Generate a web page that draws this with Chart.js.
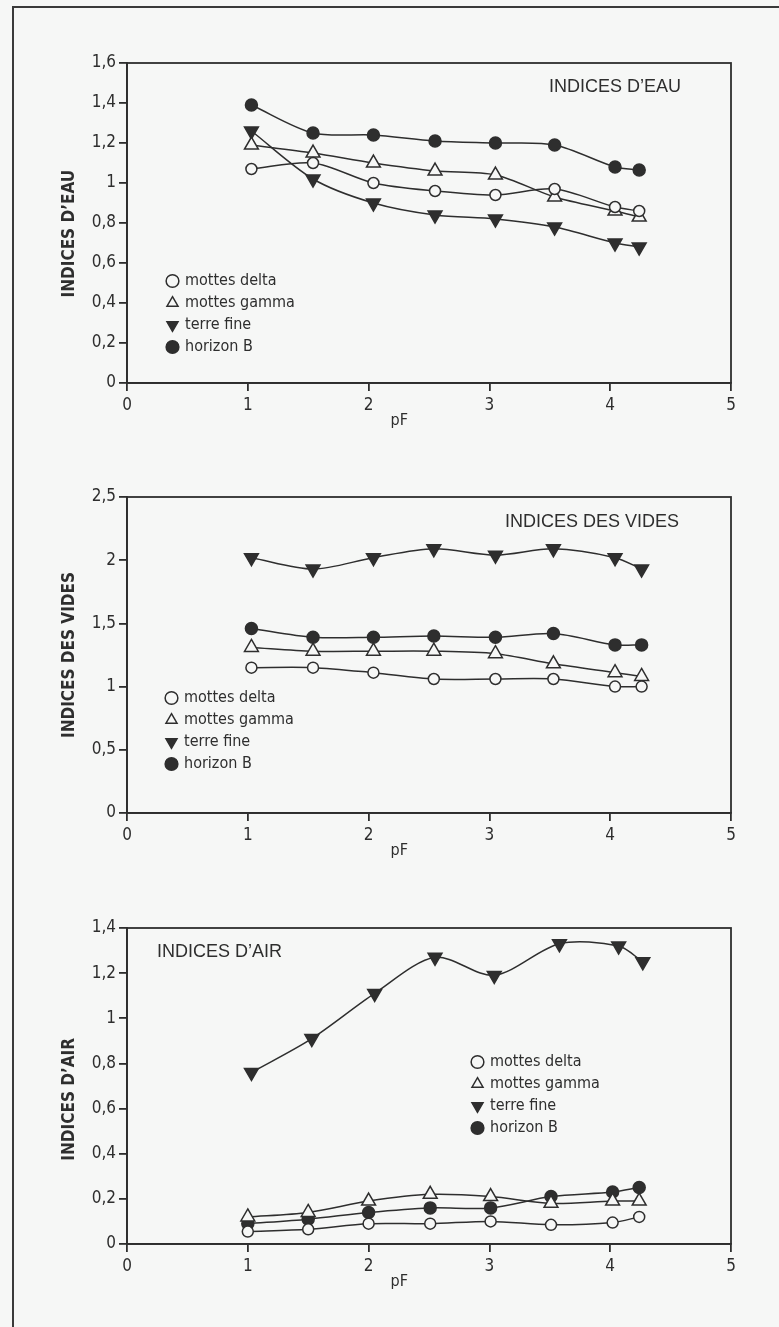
<!DOCTYPE html>
<html>
<head>
<meta charset="utf-8">
<script src="https://cdn.jsdelivr.net/npm/chart.js@4.4.0/dist/chart.umd.min.js"></script>
<style>
  html, body { margin: 0; padding: 0; background: #f6f7f6; }
  #page { position: relative; width: 779px; height: 1327px; overflow: hidden; }
  #frame { position: absolute; left: 12px; top: 6px; right: -10px; bottom: -10px;
           border-top: 2px solid #3a3a3a; border-left: 2px solid #3a3a3a; }
  canvas { position: absolute; left: 0; }
</style>
</head>
<body>
<div id="page">
  <div id="frame"></div>
  <canvas id="eau" width="779" height="440" style="top:0px"></canvas>
  <canvas id="vides" width="779" height="430" style="top:440px"></canvas>
  <canvas id="air" width="779" height="457" style="top:870px"></canvas>
</div>
<script>
const seriesNames = ['mottes delta', 'mottes gamma', 'terre fine', 'horizon B'];

// pF positions
const pfEau = [1.03, 1.54, 2.04, 2.55, 3.05, 3.54, 4.04, 4.24];
const pfVides = [1.03, 1.54, 2.04, 2.54, 3.05, 3.53, 4.04, 4.26];
const pfAir = [1.0, 1.5, 2.0, 2.51, 3.01, 3.51, 4.02, 4.24];
const pfAirTerre = [1.03, 1.53, 2.05, 2.55, 3.04, 3.58, 4.07, 4.27];

// indices d'eau
const eauDelta = [1.07, 1.10, 1.00, 0.96, 0.94, 0.97, 0.88, 0.86];
const eauGamma = [1.19, 1.15, 1.10, 1.06, 1.04, 0.93, 0.86, 0.83];
const eauTerre = [1.26, 1.02, 0.90, 0.84, 0.82, 0.78, 0.70, 0.68];
const eauHorizon = [1.39, 1.25, 1.24, 1.21, 1.20, 1.19, 1.08, 1.065];

// indices des vides
const videsDelta = [1.15, 1.15, 1.11, 1.06, 1.06, 1.06, 1.00, 1.00];
const videsGamma = [1.31, 1.28, 1.28, 1.28, 1.26, 1.18, 1.11, 1.08];
const videsTerre = [2.02, 1.93, 2.02, 2.09, 2.04, 2.09, 2.02, 1.93];
const videsHorizon = [1.46, 1.39, 1.39, 1.40, 1.39, 1.42, 1.33, 1.33];

// indices d'air
const airDelta = [0.055, 0.065, 0.09, 0.09, 0.10, 0.085, 0.095, 0.12];
const airGamma = [0.12, 0.14, 0.19, 0.22, 0.21, 0.18, 0.19, 0.19];
const airTerre = [0.76, 0.91, 1.11, 1.27, 1.19, 1.33, 1.32, 1.25];
const airHorizon = [0.09, 0.11, 0.14, 0.16, 0.16, 0.21, 0.23, 0.25];

const xTicks = [0, 1, 2, 3, 4, 5];

const INK = '#2e2e2e';
const PAPER = '#f6f7f6';
const NARROW = "'Liberation Sans Narrow', 'DejaVu Sans Condensed', sans-serif";
const SANS = "'Liberation Sans', Arial, sans-serif";

const markers = [
  { pointStyle: 'circle', pointRadius: 5.5, pointBackgroundColor: PAPER },
  { pointStyle: 'triangle', pointRadius: 8, pointBackgroundColor: PAPER },
  { pointStyle: 'triangle', pointRotation: 180, pointRadius: 8, pointBackgroundColor: INK },
  { pointStyle: 'circle', pointRadius: 6, pointBackgroundColor: INK },
];

function series(i, xs, ys) {
  return Object.assign({
    label: seriesNames[i],
    data: xs.map((x, k) => ({ x: x, y: ys[k] })),
    borderColor: INK,
    borderWidth: 1.5,
    pointBorderColor: INK,
    pointBorderWidth: 1.5,
    tension: 0.3,
    fill: false
  }, markers[i]);
}

// box round the plot area (top and right sides)
const frame = {
  id: 'frame',
  beforeDatasetsDraw(chart) {
    const { ctx, chartArea: a } = chart;
    ctx.save();
    ctx.strokeStyle = INK;
    ctx.lineWidth = 1.8;
    ctx.strokeRect(a.left, a.top, a.right - a.left, a.bottom - a.top);
    ctx.restore();
  }
};

// panel name written inside the plot
const panelTitle = {
  id: 'panelTitle',
  afterDraw(chart, args, opts) {
    const { ctx, chartArea: a } = chart;
    ctx.save();
    ctx.font = '18px ' + SANS;
    ctx.fillStyle = INK;
    ctx.textBaseline = 'middle';
    ctx.textAlign = opts.align;
    const x = opts.align === 'right' ? a.right - opts.dx : a.left + opts.dx;
    ctx.fillText(opts.text, x, a.top + opts.dy);
    ctx.restore();
  }
};

// move the legend box inside the plot
const legendAt = {
  id: 'legendAt',
  afterLayout(chart, args, opts) {
    const lg = chart.legend;
    const a = chart.chartArea;
    lg.left = a.left + opts.dx;
    lg.top = a.top + opts.dy;
    lg.right = lg.left + lg.width;
    lg.bottom = lg.top + 200;
  }
};

function commaLabel(v) {
  return String(Math.round(v * 10) / 10).replace('.', ',');
}

function makeChart(id, datasets, cfg) {
  const axisGrid = { drawOnChartArea: false, tickLength: 8, color: INK, lineWidth: 1.8 };
  const axisBorder = { color: INK, width: 1.8 };
  const tickFont = { family: NARROW, size: 17 };
  return new Chart(document.getElementById(id), {
    type: 'line',
    data: { datasets: datasets },
    plugins: [frame, panelTitle, legendAt],
    options: {
      responsive: false,
      animation: false,
      devicePixelRatio: 1,
      layout: { autoPadding: false, padding: cfg.padding },
      scales: {
        x: {
          type: 'linear', min: 0, max: 5,
          afterBuildTicks: s => { s.ticks = xTicks.map(v => ({ value: v })); },
          ticks: { color: INK, font: tickFont, padding: 4, maxRotation: 0, callback: commaLabel },
          grid: axisGrid, border: axisBorder,
          title: { display: true, text: 'pF' + ' '.repeat(13), color: INK,
                   font: { family: NARROW, size: 16 }, padding: { top: 0, bottom: 10 } },
          afterFit: s => { s.height = 57; }
        },
        y: {
          type: 'linear', min: 0, max: cfg.yMax,
          ticks: { stepSize: cfg.yStep, color: INK, font: tickFont, padding: 3, callback: commaLabel },
          grid: axisGrid, border: axisBorder,
          title: { display: true, text: cfg.yTitle + ' '.repeat(cfg.yShift), color: INK,
                   font: { family: NARROW, size: 17, weight: 'bold' }, padding: { top: 59, bottom: 0 } },
          afterFit: s => { s.width = 127; }
        }
      },
      plugins: {
        tooltip: { enabled: false },
        legend: {
          position: 'chartArea', align: 'start',
          labels: { usePointStyle: true, boxWidth: 9, boxHeight: 9, padding: 6, color: INK,
                    font: { family: NARROW, size: 16 } }
        },
        legendAt: cfg.legend,
        panelTitle: cfg.title
      }
    }
  });
}

makeChart('eau', [
  series(0, pfEau, eauDelta),
  series(1, pfEau, eauGamma),
  series(2, pfEau, eauTerre),
  series(3, pfEau, eauHorizon)
], {
  padding: { left: 0, top: 63, right: 48, bottom: 0 },
  yMax: 1.6, yStep: 0.2, yTitle: "INDICES D\u2019EAU", yShift: 4,
  legend: { dx: 35, dy: 204 },
  title: { text: "INDICES D\u2019EAU", align: 'right', dx: 50, dy: 24 }
});

makeChart('vides', [
  series(0, pfVides, videsDelta),
  series(1, pfVides, videsGamma),
  series(2, pfVides, videsTerre),
  series(3, pfVides, videsHorizon)
], {
  padding: { left: 0, top: 57, right: 48, bottom: 0 },
  yMax: 2.5, yStep: 0.5, yTitle: 'INDICES DES VIDES', yShift: 0,
  legend: { dx: 34, dy: 187 },
  title: { text: 'INDICES DES VIDES', align: 'right', dx: 52, dy: 25 }
});

makeChart('air', [
  series(0, pfAir, airDelta),
  series(1, pfAir, airGamma),
  series(2, pfAirTerre, airTerre),
  series(3, pfAir, airHorizon)
], {
  padding: { left: 0, top: 58, right: 48, bottom: 26 },
  yMax: 1.4, yStep: 0.2, yTitle: "INDICES D\u2019AIR", yShift: 5,
  legend: { dx: 340, dy: 120 },
  title: { text: "INDICES D\u2019AIR", align: 'left', dx: 30, dy: 24 }
});
</script>
</body>
</html>
